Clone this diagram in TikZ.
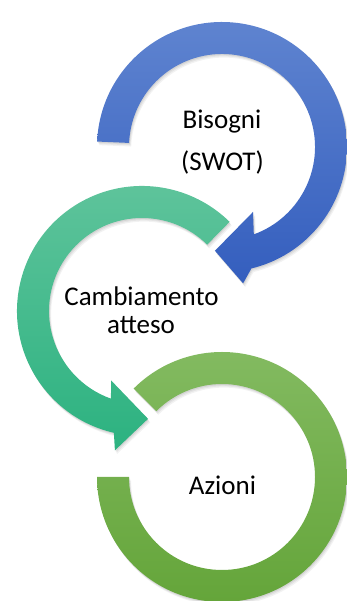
\documentclass[tikz,border=0pt]{standalone}
\usepackage{fontspec}
\setmainfont{Carlito}
\begin{document}
\begin{tikzpicture}[x=1pt,y=1pt,
  lbl/.style={font=\fontsize{27}{32}\selectfont, anchor=base, inner sep=0pt, text=black},
  softshadow/.style={
    preaction={fill=black, fill opacity=0.07, transform canvas={shift={(0.7pt,-1.2pt)}}},
    preaction={fill=black, fill opacity=0.06, transform canvas={shift={(1.4pt,-2.4pt)}}},
    preaction={fill=black, fill opacity=0.05, transform canvas={shift={(2.1pt,-3.6pt)}}}},
  bluering/.style={softshadow, top color={rgb,255:red,95;green,132;blue,208}, bottom color={rgb,255:red,52;green,94;blue,190}},
  tealring/.style={softshadow, top color={rgb,255:red,96;green,196;blue,156}, bottom color={rgb,255:red,44;green,178;blue,128}},
  greenring/.style={softshadow, top color={rgb,255:red,132;green,187;blue,98}, bottom color={rgb,255:red,99;green,164;blue,56}}]
\useasboundingbox (0,0) rectangle (346,601);
\coordinate (B) at (222,454);
\coordinate (T) at (142,290);
\coordinate (G) at (222,124);
% blue circular arrow
\begin{scope}[shift={(B)}]
\path[bluering] (177.5:125pt) arc[start angle=177.5, end angle=-76.4, radius=125pt]
  -- (-81.2:138pt) -- (-93.9:104pt) -- (-64.5:72pt) -- (-70:93pt)
  arc[start angle=-70, end angle=177.5, radius=93pt] -- cycle;
\end{scope}
% teal circular arrow
\begin{scope}[shift={(T)}]
\path[tealring] (45.5:93pt) arc[start angle=45.5, end angle=250.5, radius=93pt]
  -- (246:76pt) -- (273.2:108pt) -- (259:142pt) -- (257:125pt)
  arc[start angle=257, end angle=45.5, radius=125pt] -- cycle;
\end{scope}
% green circular arc
\begin{scope}[shift={(G)}]
\path[greenring] (135:125pt) arc[start angle=135, end angle=-180, radius=125pt]
  -- (180:93pt) arc[start angle=-180, end angle=135, radius=93pt] -- cycle;
\end{scope}
% labels
\node[lbl] (bis1) at (222,472.7) {Bisogni};
\node[lbl] (bis2) at (222.5,430.3) {(SWOT)};
\node[lbl] (cam1) at (141.5,295.5) {Cambiamento};
\node[lbl] (cam2) at (141,267.7) {atteso};
\node[lbl] (azi) at (222.5,106.7) {Azioni};
\end{tikzpicture}
\end{document}
